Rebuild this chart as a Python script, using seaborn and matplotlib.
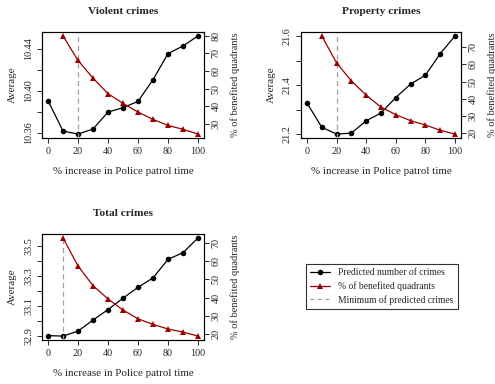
import matplotlib
matplotlib.use("Agg")
import matplotlib.pyplot as plt
from matplotlib.lines import Line2D
import seaborn as sns
import pandas as pd

# Patrol time increase (%)
patrol = [0, 10, 20, 30, 40, 50, 60, 70, 80, 90, 100]
patrol_q = [10, 20, 30, 40, 50, 60, 70, 80, 90, 100]

# Predicted average number of crimes
violent_pred = [10.3906, 10.3616, 10.3587, 10.3635, 10.3797, 10.3839,
                10.3899, 10.4106, 10.4355, 10.4428, 10.4524]
property_pred = [21.328, 21.229, 21.201, 21.205, 21.255, 21.287,
                 21.350, 21.405, 21.441, 21.529, 21.601]
total_pred = [32.900, 32.897, 32.930, 33.005, 33.075, 33.152,
              33.225, 33.288, 33.413, 33.458, 33.557]

# Share of quadrants that benefit (%)
violent_q = [79.9, 66.0, 56.0, 47.2, 41.7, 36.8, 32.6, 29.2, 27.0, 24.3]
property_q = [76.6, 60.9, 50.4, 42.1, 35.1, 30.7, 27.2, 24.7, 21.6, 19.4]
total_q = [72.8, 57.4, 46.6, 39.3, 33.2, 28.4, 25.3, 22.8, 21.1, 18.9]

# Patrol level giving the lowest predicted crimes
violent_min = 20
property_min = 20
total_min = 10

titles = ["Violent crimes", "Property crimes", "Total crimes"]
left_ticks = [[10.36, 10.38, 10.40, 10.42, 10.44],
              [21.2, 21.3, 21.4, 21.5, 21.6],
              [32.9, 33.0, 33.1, 33.2, 33.3, 33.4, 33.5]]
left_labels = [["10.36", "", "10.40", "", "10.44"],
               ["21.2", "", "21.4", "", "21.6"],
               ["32.9", "", "33.1", "", "33.3", "", "33.5"]]
right_ticks = [[30, 40, 50, 60, 70, 80],
               [20, 30, 40, 50, 60, 70],
               [20, 30, 40, 50, 60, 70]]
x_ticks = [0, 20, 40, 60, 80, 100]

sns.set_theme(style="ticks")
plt.rcParams["font.family"] = ["Liberation Serif", "DejaVu Serif"]
plt.rcParams["axes.linewidth"] = 0.8

RED = "#990000"
GREY = "#a0a0a0"
W, H = 495, 384
fig = plt.figure(figsize=(W / 100, H / 100), dpi=100)

boxes = [(42, 32, 204, 138), (301, 32, 461, 138), (42, 234, 204, 340)]
panels = [(violent_pred, violent_q, violent_min),
          (property_pred, property_q, property_min),
          (total_pred, total_q, total_min)]

FS = 7.3
for i, ((x0, y0, x1, y1), (pred, qd, vmin)) in enumerate(zip(boxes, panels)):
    ax = fig.add_axes([x0 / W, 1 - y1 / H, (x1 - x0) / W, (y1 - y0) / H])
    df = pd.DataFrame({"patrol": patrol, "pred": pred})
    sns.lineplot(data=df, x="patrol", y="pred", ax=ax, color="black",
                 marker="o", markersize=4, markeredgewidth=0, linewidth=0.9)
    ax.margins(y=0.04)
    ax.set_xlim(-4, 104)
    ax.axvline(vmin, color=GREY, linestyle=(0, (4, 3)), linewidth=0.9)
    ax.set_xticks(x_ticks)
    ax.set_yticks(left_ticks[i])
    ax.set_yticklabels(left_labels[i], rotation=90, va="center")
    ax.set_xlabel("% increase in Police patrol time", fontsize=FS + 0.6, labelpad=8)
    ax.set_ylabel("Average", fontsize=FS + 0.6, labelpad=5)
    ax.set_title(titles[i], fontsize=FS + 0.9, fontweight="bold", pad=13)
    ax.tick_params(labelsize=FS, length=3.5, width=0.7, direction="out", pad=3)

    ax2 = ax.twinx()
    dq = pd.DataFrame({"patrol": patrol_q, "q": qd})
    sns.lineplot(data=dq, x="patrol", y="q", ax=ax2, color=RED,
                 marker="^", markersize=4, markeredgewidth=0, linewidth=0.9)
    ax2.margins(y=0.04)
    ax2.set_xlim(-4, 104)
    ax2.set_yticks(right_ticks[i])
    ax2.set_yticklabels([str(t) for t in right_ticks[i]], rotation=90, va="center")
    ax2.set_ylabel("% of benefited quadrants", fontsize=FS + 0.2, labelpad=7)
    ax2.tick_params(labelsize=FS, length=3.5, width=0.7, direction="out", pad=2)
    for sp in ax2.spines.values():
        sp.set_visible(True)
        sp.set_linewidth(0.8)
        sp.set_color("black")

handles = [
    Line2D([], [], color="black", marker="o", markersize=4, markeredgewidth=0, linewidth=0.9),
    Line2D([], [], color=RED, marker="^", markersize=4, markeredgewidth=0, linewidth=0.9),
    Line2D([], [], color=GREY, linestyle=(0, (3, 3)), linewidth=0.9),
]
labels = ["Predicted number of crimes", "% of benefited quadrants",
          "Minimum of predicted crimes"]
leg = fig.legend(handles, labels, loc="center",
                 bbox_to_anchor=((308 + 456) / 2 / W, 1 - (264 + 309) / 2 / H),
                 fontsize=6.9, frameon=True, fancybox=False, handlelength=2.0,
                 handletextpad=0.9, borderpad=0.5, labelspacing=0.4,
                 borderaxespad=0)
leg.get_frame().set_edgecolor("black")
leg.get_frame().set_linewidth(0.8)

fig.savefig("out.png", dpi=100)
